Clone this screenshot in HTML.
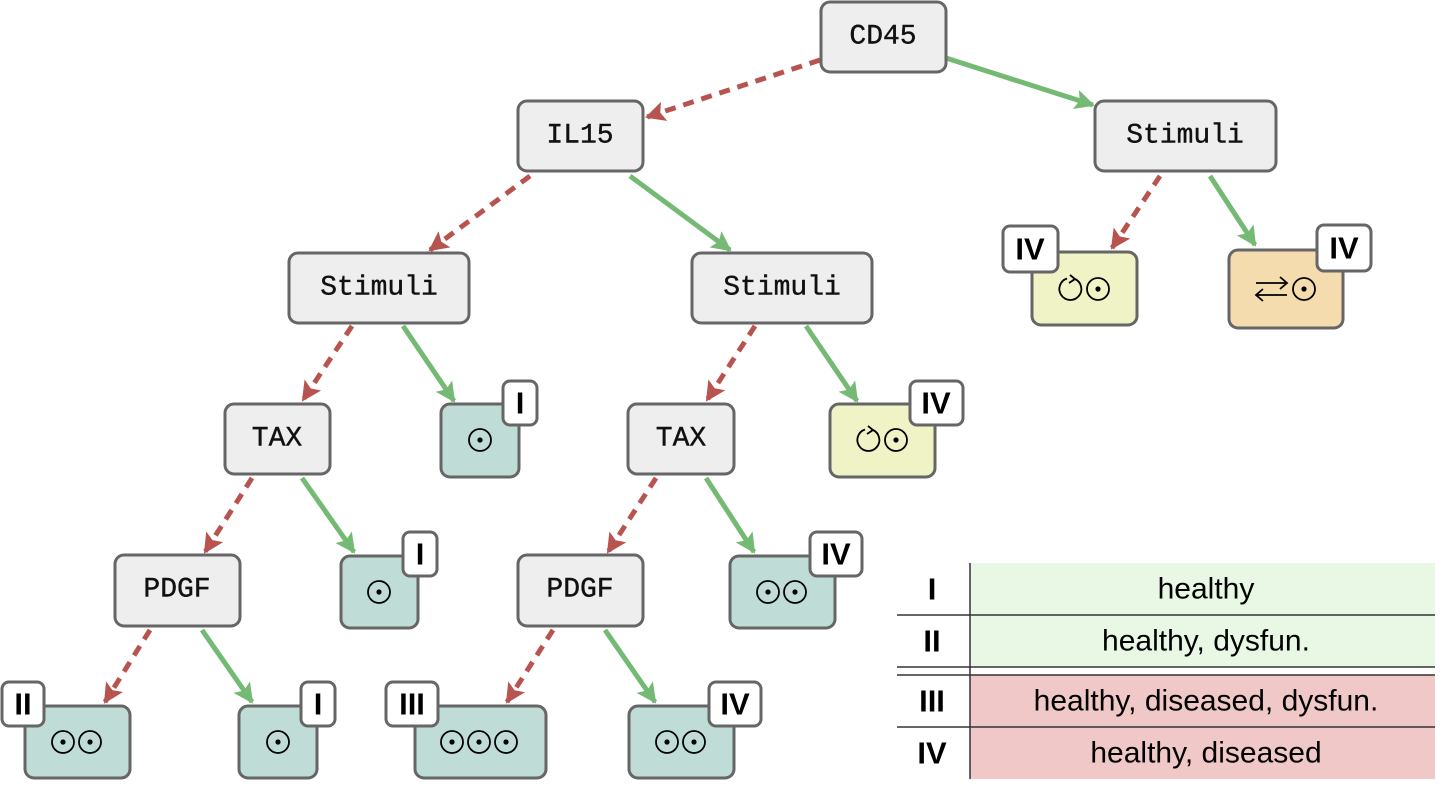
<!DOCTYPE html>
<html><head><meta charset="utf-8"><style>
html,body{margin:0;padding:0;background:#fff;}
svg{display:block;}
.n{fill:#eeeeee;stroke:#666;stroke-width:3;}
.t{fill:#bfdcd7;stroke:#666;stroke-width:3;}
.y{fill:#eff3c5;stroke:#666;stroke-width:3;}
.o{fill:#f5dcae;stroke:#666;stroke-width:3;}
.b{fill:#fff;stroke:#666;stroke-width:3;}
.lbl{font-family:"Liberation Mono",monospace;font-size:28px;text-anchor:middle;dominant-baseline:central;fill:#111;stroke:#111;stroke-width:0.4;}
.bd{font-family:"Liberation Sans",sans-serif;font-weight:bold;font-size:31px;text-anchor:middle;dominant-baseline:central;fill:#000;}
.r{stroke:#b85450;stroke-width:5;stroke-dasharray:11,8;fill:none;marker-end:url(#ar);}
.g{stroke:#74b974;stroke-width:5;fill:none;marker-end:url(#ag);}
.c{fill:none;stroke:#000;stroke-width:1.8;}
.tb{font-family:"Liberation Sans",sans-serif;font-size:30px;text-anchor:middle;dominant-baseline:central;fill:#000;}
</style></head><body>
<svg width="1455" height="792" viewBox="0 0 1455 792" xmlns="http://www.w3.org/2000/svg">
<defs>
<marker id="ar" markerUnits="userSpaceOnUse" markerWidth="22" markerHeight="22" refX="18" refY="10" orient="auto"><path d="M0,0 L20,10 L0,20 L4,10 Z" fill="#b85450"/></marker>
<marker id="ag" markerUnits="userSpaceOnUse" markerWidth="22" markerHeight="22" refX="18" refY="10" orient="auto"><path d="M0,0 L20,10 L0,20 L4,10 Z" fill="#74b974"/></marker>
</defs>

<line class="r" x1="820" y1="60" x2="647" y2="117"/>
<line class="g" x1="946" y1="58" x2="1093" y2="105"/>
<line class="r" x1="530" y1="176" x2="430" y2="250"/>
<line class="g" x1="630" y1="176" x2="730" y2="250"/>
<line class="r" x1="1160" y1="176" x2="1112" y2="248"/>
<line class="g" x1="1210" y1="176" x2="1255" y2="245"/>
<line class="r" x1="352" y1="326" x2="303" y2="400"/>
<line class="g" x1="403" y1="326" x2="454" y2="401"/>
<line class="r" x1="755" y1="326" x2="707" y2="400"/>
<line class="g" x1="806" y1="326" x2="857" y2="401"/>
<line class="r" x1="252" y1="478" x2="205" y2="552"/>
<line class="g" x1="302" y1="478" x2="354" y2="552"/>
<line class="r" x1="656" y1="478" x2="608" y2="552"/>
<line class="g" x1="706" y1="478" x2="754" y2="552"/>
<line class="r" x1="150" y1="630" x2="105" y2="702"/>
<line class="g" x1="202" y1="630" x2="252" y2="702"/>
<line class="r" x1="553" y1="630" x2="507" y2="702"/>
<line class="g" x1="605" y1="630" x2="655" y2="702"/>

<rect class="n" x="821" y="2" width="125" height="70" rx="9"/><text class="lbl" x="883" y="37">CD45</text>
<rect class="n" x="518" y="101" width="125" height="70" rx="9"/><text class="lbl" x="580" y="136">IL15</text>
<rect class="n" x="1095" y="101" width="181" height="70" rx="9"/><text class="lbl" x="1185" y="136">Stimuli</text>
<rect class="n" x="289" y="253" width="180" height="70" rx="9"/><text class="lbl" x="379" y="288">Stimuli</text>
<rect class="n" x="692" y="253" width="180" height="70" rx="9"/><text class="lbl" x="782" y="288">Stimuli</text>
<rect class="n" x="225" y="404" width="105" height="70" rx="9"/><text class="lbl" x="277" y="439">TAX</text>
<rect class="n" x="628" y="404" width="106" height="70" rx="9"/><text class="lbl" x="681" y="439">TAX</text>
<rect class="n" x="115" y="555" width="125" height="71" rx="9"/><text class="lbl" x="177" y="590">PDGF</text>
<rect class="n" x="518" y="555" width="125" height="71" rx="9"/><text class="lbl" x="580" y="590">PDGF</text>

<rect class="t" x="441" y="404" width="78" height="73" rx="9"/>
<circle class="c" cx="480" cy="440" r="11"/><circle cx="480" cy="440" r="2.6"/>
<rect class="b" x="503" y="381" width="34" height="44" rx="7"/><text class="bd" x="520" y="403">I</text>

<rect class="t" x="341" y="556" width="77" height="72" rx="9"/>
<circle class="c" cx="379" cy="592" r="11"/><circle cx="379" cy="592" r="2.6"/>
<rect class="b" x="403" y="532" width="34" height="44" rx="7"/><text class="bd" x="420" y="554">I</text>

<rect class="t" x="730" y="556" width="105" height="72" rx="9"/>
<circle class="c" cx="768" cy="592" r="11"/><circle cx="768" cy="592" r="2.6"/>
<circle class="c" cx="795" cy="592" r="11"/><circle cx="795" cy="592" r="2.6"/>
<rect class="b" x="810" y="532" width="52" height="44" rx="7"/><text class="bd" x="836" y="554">IV</text>

<rect class="t" x="25" y="706" width="105" height="72" rx="9"/>
<circle class="c" cx="63" cy="742" r="11"/><circle cx="63" cy="742" r="2.6"/>
<circle class="c" cx="90" cy="742" r="11"/><circle cx="90" cy="742" r="2.6"/>
<rect class="b" x="2" y="682" width="42" height="44" rx="7"/><text class="bd" x="23" y="704">II</text>

<rect class="t" x="239" y="706" width="78" height="72" rx="9"/>
<circle class="c" cx="278" cy="742" r="11"/><circle cx="278" cy="742" r="2.6"/>
<rect class="b" x="301" y="682" width="34" height="44" rx="7"/><text class="bd" x="318" y="704">I</text>

<rect class="t" x="415" y="706" width="131" height="72" rx="9"/>
<circle class="c" cx="452" cy="742" r="11"/><circle cx="452" cy="742" r="2.6"/>
<circle class="c" cx="479" cy="742" r="11"/><circle cx="479" cy="742" r="2.6"/>
<circle class="c" cx="506" cy="742" r="11"/><circle cx="506" cy="742" r="2.6"/>
<rect class="b" x="386" y="682" width="52" height="44" rx="7"/><text class="bd" x="412" y="704">III</text>

<rect class="t" x="629" y="706" width="105" height="72" rx="9"/>
<circle class="c" cx="667" cy="742" r="11"/><circle cx="667" cy="742" r="2.6"/>
<circle class="c" cx="694" cy="742" r="11"/><circle cx="694" cy="742" r="2.6"/>
<rect class="b" x="709" y="682" width="52" height="44" rx="7"/><text class="bd" x="735" y="704">IV</text>

<rect class="y" x="830" y="404" width="105" height="73" rx="9"/>
<path class="c" d="M873,430 A11,11 0 1 1 865,429.5"/><path class="c" d="M868,426 L873,430 L867,434"/>
<circle class="c" cx="896" cy="440" r="11"/><circle cx="896" cy="440" r="2.6"/>
<rect class="b" x="910" y="381" width="53" height="44" rx="7"/><text class="bd" x="936" y="403">IV</text>

<rect class="y" x="1032" y="252" width="105" height="73" rx="9"/>
<path class="c" d="M1075,279 A11,11 0 1 1 1067,278.5"/><path class="c" d="M1070,275 L1075,279 L1069,283"/>
<circle class="c" cx="1098" cy="289" r="11"/><circle cx="1098" cy="289" r="2.6"/>
<rect class="b" x="1003" y="226" width="55" height="46" rx="7"/><text class="bd" x="1030" y="249">IV</text>

<rect class="o" x="1229" y="250" width="114" height="78" rx="9"/>
<path class="c" d="M1256,283 L1287,283 M1280,277 L1287,283 L1280,289"/>
<path class="c" d="M1256,295 L1287,295 M1263,289 L1256,295 L1263,301"/>
<circle class="c" cx="1304" cy="289" r="11"/><circle cx="1304" cy="289" r="2.6"/>
<rect class="b" x="1317" y="225" width="54" height="46" rx="7"/><text class="bd" x="1344" y="248">IV</text>

<rect x="970" y="563" width="465" height="104" fill="#e8f8e4"/>
<rect x="970" y="675" width="465" height="104" fill="#f0c8c8"/>
<line x1="970" y1="563" x2="970" y2="779" stroke="#333" stroke-width="1.5"/>
<line x1="897" y1="615" x2="1435" y2="615" stroke="#333" stroke-width="1.5"/>
<line x1="897" y1="667" x2="1435" y2="667" stroke="#333" stroke-width="1.5"/>
<line x1="897" y1="675" x2="1435" y2="675" stroke="#333" stroke-width="1.5"/>
<line x1="897" y1="727" x2="1435" y2="727" stroke="#333" stroke-width="1.5"/>
<text class="bd" x="932" y="589">I</text>
<text class="bd" x="932" y="641">II</text>
<text class="bd" x="932" y="701">III</text>
<text class="bd" x="932" y="753">IV</text>
<text class="tb" x="1206" y="589">healthy</text>
<text class="tb" x="1206" y="641">healthy, dysfun.</text>
<text class="tb" x="1206" y="701">healthy, diseased, dysfun.</text>
<text class="tb" x="1206" y="753">healthy, diseased</text>
</svg>
</body></html>
